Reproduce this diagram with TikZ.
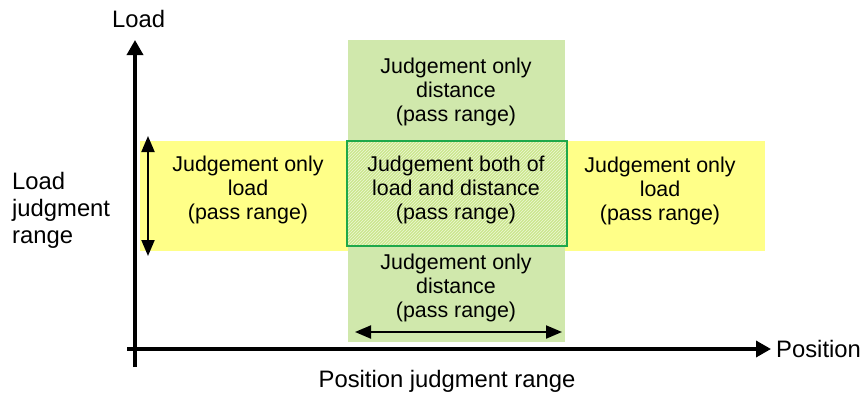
\documentclass[tikz,border=0pt]{standalone}
\usepackage{fontspec}
\setmainfont{Liberation Sans}
\usetikzlibrary{arrows.meta,patterns}
\definecolor{bandyellow}{HTML}{FFFF88}
\definecolor{colgreen}{HTML}{D0E8AC}
\definecolor{mixgreen}{HTML}{CCE78E}
\definecolor{boxgreen}{HTML}{1EA84A}
\tikzset{
  lbl/.style={font=\fontsize{21.4}{24}\selectfont, align=center, inner sep=0pt},
  axlbl/.style={font=\fontsize{23.8}{27}\selectfont, inner sep=0pt},
  axis/.style={line width=3.4pt, -{Triangle[length=15pt,width=16pt]}},
  rng/.style={line width=2pt, {Triangle[length=16pt,width=13pt]}-{Triangle[length=16pt,width=13pt]}},
}
\begin{document}
\begin{tikzpicture}[x=1pt,y=-1pt]
\useasboundingbox (0,0) rectangle (864,394);
% bands
\fill[bandyellow] (140,141) rectangle (765,251);
\fill[colgreen] (348,40) rectangle (565,342);
\fill[mixgreen] (347,141) rectangle (567,246);
\fill[pattern=north east lines, pattern color=white!65!mixgreen] (347,141) rectangle (567,246);
\node[draw=boxgreen, line width=1.8pt, minimum width=220pt, minimum height=105pt, inner sep=0pt] (both) at (457,193.5) {};
% axes
\coordinate (xo) at (127,349);
\coordinate (xe) at (771,349);
\coordinate (yo) at (135,367);
\coordinate (ye) at (135,40);
\draw[axis] (xo) -- (xe);
\draw[axis] (yo) -- (ye);
% range arrows
\coordinate (va) at (148,136);
\coordinate (vb) at (148,256);
\draw[rng] (va) -- (vb);
\coordinate (ha) at (355,332);
\coordinate (hb) at (562,332);
\draw[rng] (ha) -- (hb);
% texts
\node[axlbl, anchor=west] (load) at (112,19) {Load};
\node[axlbl, anchor=west, align=left] (ljr) at (12,210) {Load\\judgment\\range};
\node[axlbl, anchor=west] (pos) at (776,349) {Position};
\node[axlbl] (pjr) at (447,381) {Position judgment range};
\node[lbl] (top) at (456,92) {Judgement only\\distance\\(pass range)};
\node[lbl] (left) at (248,190) {Judgement only\\load\\(pass range)};
\node[lbl] (mid) at (456,190) {Judgement both of\\load and distance\\(pass range)};
\node[lbl] (right) at (660,191) {Judgement only\\load\\(pass range)};
\node[lbl] (bot) at (456,288) {Judgement only\\distance\\(pass range)};
\end{tikzpicture}
\end{document}
